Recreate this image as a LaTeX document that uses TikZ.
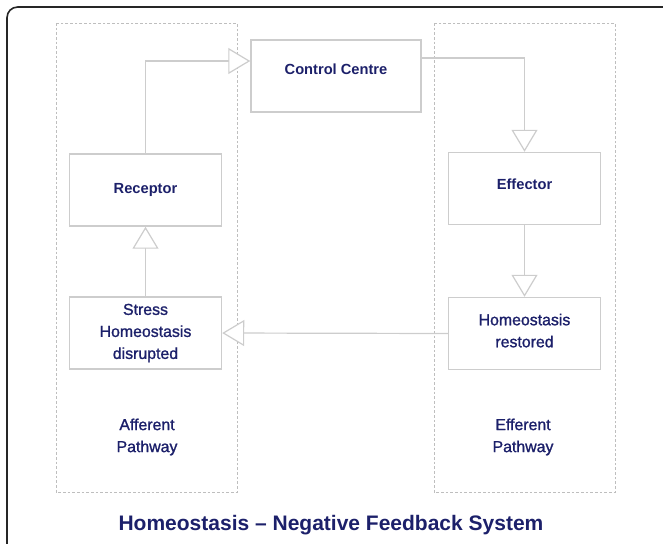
\documentclass[tikz,border=0pt]{standalone}
\usepackage{fontspec}
\setmainfont{Liberation Sans}
\newfontfamily\medfont[BoldFont={Liberation Sans}, BoldFeatures={FakeBold=1.2}]{Liberation Sans}
\usepackage{tikz}
\usetikzlibrary{arrows.meta}
\definecolor{navy}{RGB}{28,32,106}
\definecolor{boxgray}{RGB}{205,205,205}
\definecolor{dashgray}{RGB}{190,190,190}
\tikzset{
  block/.style={draw=boxgray, line width=1.1pt, fill=white, align=center, text=navy,
    font=\fontsize{11}{16.5}\selectfont\bfseries},
  medtext/.style={font=\fontsize{11.9}{16.5}\selectfont\medfont\bfseries},
  bigblock/.style={block, minimum width=127.5pt, minimum height=54pt},
  smallblock/.style={block, minimum width=114pt, minimum height=54pt},
  flow/.style={draw=boxgray, line width=0.9pt,
    -{Triangle[open, length=16.5pt, width=19.5pt, fill=white]}},
  pathlabel/.style={align=center, text=navy, medtext}
}
\begin{document}
\begin{tikzpicture}[x=0.75pt,y=-0.75pt]
\useasboundingbox (0,0) rectangle (663,543);
\clip (0,0) rectangle (663,543);
% outer frame
\draw [line width=1.2pt, black!85, rounded corners=8pt] (7,7) rectangle (690,570);
% pathway boxes
\draw [dashgray, dashed, dash pattern=on 2pt off 1.5pt, line width=0.7pt] (56,23) rectangle (237,492);
\draw [dashgray, dashed, dash pattern=on 2pt off 1.5pt, line width=0.7pt] (434,23) rectangle (615,492);
% blocks
\node [bigblock, text depth=10.5pt] (cc) at (336,76) {Control Centre};
\node [smallblock] (rec) at (145.5,190) {Receptor};
\node [smallblock, text depth=7pt] (eff) at (524.5,188.5) {Effector};
\node [smallblock, medtext] (str) at (145.5,333) {Stress\\Homeostasis\\disrupted};
\node [smallblock, medtext, text depth=4.5pt] (res) at (524.5,333.5) {Homeostasis\\restored};
% pathway labels
\node [pathlabel] (aff) at (147,437) {Afferent\\Pathway};
\node [pathlabel] (eft) at (523,437) {Efferent\\Pathway};
% loop
\draw [flow] (rec.north) |- ([yshift=11.25pt]cc.west);
\draw [flow] ([yshift=13.5pt]cc.east) -| (eff.north);
\draw [flow] (eff.south) -- (res.north);
\draw [flow] (res.west) -- (str.east);
\draw [flow] (str.north) -- (rec.south);
% title
\node [text=navy, font=\fontsize{15.75}{18}\selectfont\bfseries] (title) at (331,525) {Homeostasis – Negative Feedback System};
\end{tikzpicture}
\end{document}
